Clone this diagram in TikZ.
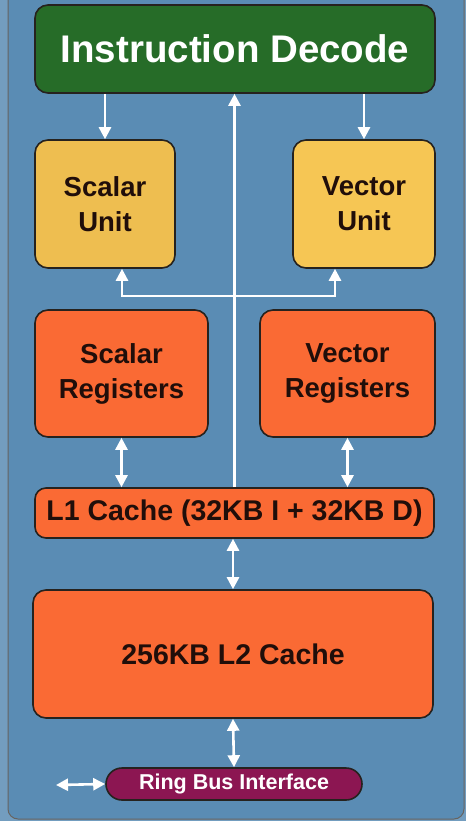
\documentclass[tikz,border=0pt]{standalone}
\usepackage{fontspec}
\setmainfont{Liberation Sans}
\usetikzlibrary{arrows.meta}
\definecolor{panelblue}{RGB}{90,140,180}
\definecolor{decodegreen}{RGB}{38,108,40}
\definecolor{unityellow}{RGB}{238,190,80}
\definecolor{unitgold}{RGB}{246,198,84}
\definecolor{regorange}{RGB}{250,106,52}
\definecolor{busmaroon}{RGB}{140,22,82}
\definecolor{edgedark}{RGB}{38,34,30}
\definecolor{inkdark}{RGB}{32,14,10}
\tikzset{
  block/.style={draw=edgedark,line width=1.6pt,rounded corners=13pt,
    align=center,text=inkdark,font=\bfseries\fontsize{27.5}{35}\selectfont},
  link/.style={draw=white,line width=2.6pt,
    arrows={-Triangle[width=12pt,length=12pt]}},
  twoway/.style={draw=white,line width=2.6pt,
    arrows={Triangle[width=12pt,length=12pt]-Triangle[width=12pt,length=12pt]}}
}
\begin{document}
\begin{tikzpicture}[x=1pt,y=-1pt]
  \useasboundingbox(0,0)rectangle(466,821);
  % panel
  \fill[panelblue!85!white](0,0)rectangle(466,821);
  \filldraw[fill=panelblue,draw=edgedark!70,line width=1pt,rounded corners=10pt](8,-12)rectangle(464,819);

  % blocks
  \node[block,fill=decodegreen,text=white,minimum width=400pt,minimum height=88pt,
    font=\bfseries\fontsize{38.5}{44}\selectfont](decode) at (235,49){Instruction Decode};
  \node[block,fill=unityellow,minimum width=140pt,minimum height=128pt](sunit) at (105,204){Scalar\\Unit};
  \node[block,fill=unitgold,minimum width=142pt,minimum height=128pt](vunit) at (364,204){Vector\\Unit};
  \node[block,fill=regorange,minimum width=173pt,minimum height=127pt](sreg) at (121.5,373.5){Scalar\\Registers};
  \node[block,fill=regorange,minimum width=175pt,minimum height=127pt](vreg) at (347.5,373.5){Vector\\Registers};
  \node[block,fill=regorange,minimum width=399pt,minimum height=50pt,rounded corners=11pt,
    font=\bfseries\fontsize{28.5}{34}\selectfont](lone) at (234.5,513){L1 Cache (32KB I + 32KB D)};
  \node[block,fill=regorange,minimum width=400pt,minimum height=128pt,
    font=\bfseries\fontsize{28.5}{34}\selectfont](ltwo) at (233,654){256KB L2 Cache};
  \node[block,fill=busmaroon,text=white,minimum width=256pt,minimum height=32pt,rounded corners=16pt,
    font=\bfseries\fontsize{21.5}{26}\selectfont](ring) at (234,784){Ring Bus Interface};

  % connectors
  \draw[link](decode.south-|sunit.north)--(sunit.north);
  \draw[link](decode.south-|vunit.north)--(vunit.north);
  \draw[link](lone.north)--(lone.north|-decode.south);
  \coordinate(busl) at (122,296);
  \coordinate(busr) at (335,296);
  \draw[twoway](sunit.south-|busl)--(busl)--(busr)--(vunit.south-|busr);
  \draw[twoway](sreg.south)--(sreg.south|-lone.north);
  \draw[twoway](vreg.south)--(vreg.south|-lone.north);
  \draw[twoway](lone.south-|ltwo.north)--(ltwo.north);
  \draw[twoway](ltwo.south)--(ring.north);
  \coordinate(ringend) at (56,785);
  \draw[twoway](ringend)--(ring.west);
\end{tikzpicture}
\end{document}
